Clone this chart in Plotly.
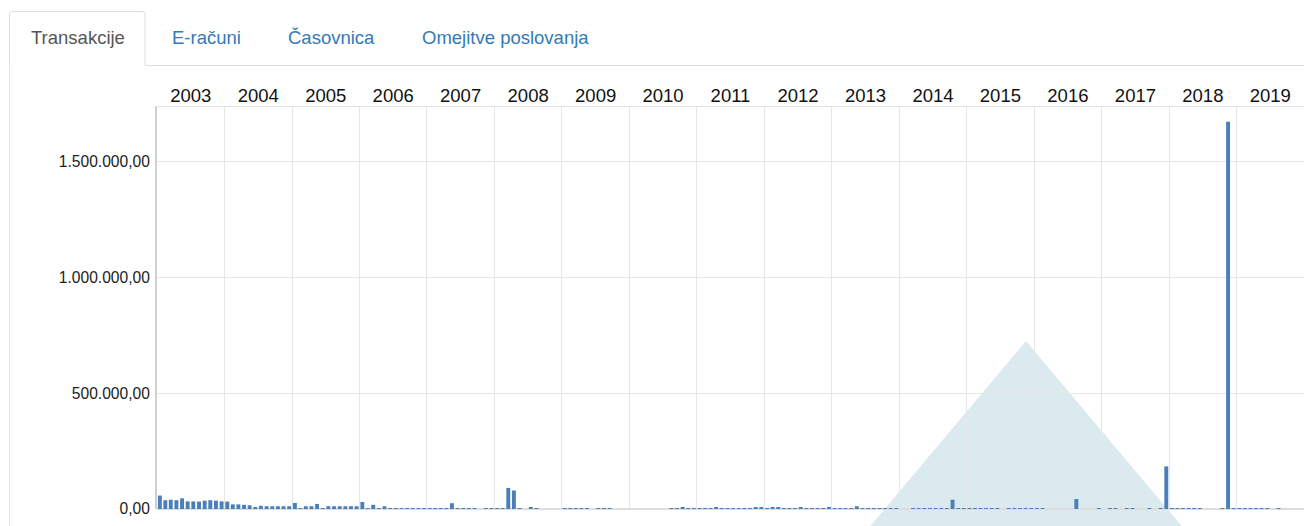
import pandas as pd
import plotly.graph_objects as go

# ---- data (monthly amounts, EUR) ----
years = list(range(2003, 2020))
v2003 = [58000, 38000, 40000, 38000, 46000, 33000, 33000, 32000, 36000, 38000, 36000, 33000]
v2004 = [32000, 20000, 20000, 18000, 16000, 6000, 14000, 12000, 12000, 12000, 12000, 12000]
v2005 = [26000, 3000, 12000, 12000, 22000, 3000, 12000, 12000, 12000, 12000, 12000, 12000]
v2006 = [30000, 3000, 18000, 2000, 12000, 4000, 4000, 4000, 4000, 4000, 4000, 4000]
v2007 = [4000, 4000, 4000, 4000, 25000, 4000, 4000, 4000, 4000, 0, 4000, 4000]
v2008 = [4000, 4000, 91000, 80000, 4000, 0, 8000, 4000, 0, 0, 0, 0]
v2009 = [4000, 4000, 4000, 4000, 4000, 0, 4000, 4000, 4000, 0, 0, 0]
v2010 = [0, 0, 0, 0, 0, 0, 0, 4000, 4000, 6000, 4000, 4000]
v2011 = [4000, 4000, 4000, 6000, 4000, 4000, 4000, 4000, 4000, 4000, 8000, 8000]
v2012 = [4000, 8000, 8000, 4000, 4000, 4000, 6000, 4000, 4000, 4000, 4000, 6000]
v2013 = [4000, 4000, 4000, 4000, 12000, 4000, 4000, 4000, 4000, 4000, 4000, 4000]
v2014 = [0, 0, 4000, 4000, 4000, 4000, 4000, 4000, 4000, 40000, 4000, 4000]
v2015 = [4000, 4000, 4000, 4000, 4000, 4000, 0, 4000, 4000, 4000, 4000, 4000]
v2016 = [4000, 4000, 0, 0, 0, 0, 0, 43000, 0, 0, 0, 4000]
v2017 = [0, 4000, 4000, 0, 4000, 4000, 0, 0, 4000, 0, 4000, 184000]
v2018 = [4000, 4000, 4000, 4000, 4000, 4000, 0, 0, 0, 4000, 1672000, 4000]
v2019 = [4000, 4000, 4000, 4000, 4000, 4000, 0, 4000, 0, 0, 0, 0]

yearly = [v2003, v2004, v2005, v2006, v2007, v2008, v2009, v2010, v2011,
          v2012, v2013, v2014, v2015, v2016, v2017, v2018, v2019]
values = [v for yr in yearly for v in yr]
months = pd.date_range("2003-01-01", periods=len(values), freq="MS")

tabs = ["Transakcije", "E-računi", "Časovnica", "Omejitve poslovanja"]
y_ticks = [0, 500000, 1000000, 1500000]

# ---- layout helpers (pixel -> paper) ----
W, H = 1304, 526
L, R, T, B = 157, 1304, 107, 509


def px(x):
    return (x - L) / (R - L)


def py(y):
    return (B - y) / (B - T)


fig = go.Figure()
fig.add_trace(go.Bar(
    x=months, y=values,
    xperiod="M1", xperiodalignment="middle",
    marker=dict(color="#4a80b7", line=dict(width=0)),
    hoverinfo="skip",
))

shapes = []
# decorative translucent triangle
tri = [(1026, 341), (856, 543), (1196, 543)]
path = "M {} {} L {} {} L {} {} Z".format(
    px(tri[0][0]), py(tri[0][1]), px(tri[1][0]), py(tri[1][1]), px(tri[2][0]), py(tri[2][1]))
shapes.append(dict(type="path", xref="paper", yref="paper", path=path,
                   fillcolor="rgba(160,200,212,0.38)", line=dict(width=0), layer="between"))
# active tab box
tab_path = "M {a} {b} L {a} {c} Q {a} {d} {e} {d} L {f} {d} Q {g} {d} {g} {c} L {g} {b}".format(
    a=px(9.5), b=py(65.5), c=py(14), d=py(11.5), e=px(12.5), f=px(142), g=px(145))
shapes.append(dict(type="path", xref="paper", yref="paper", path=tab_path,
                   line=dict(color="#dddddd", width=1)))
# tab bar underline
shapes.append(dict(type="line", xref="paper", yref="paper",
                   x0=px(145), x1=px(1304), y0=py(65.5), y1=py(65.5),
                   line=dict(color="#dddddd", width=1)))
# panel left border
shapes.append(dict(type="line", xref="paper", yref="paper",
                   x0=px(9.5), x1=px(9.5), y0=py(65.5), y1=py(526),
                   line=dict(color="#e3e3e3", width=1)))

tab_x = [77.5, 206, 331, 505]
tab_col = ["#555555", "#337ab7", "#337ab7", "#337ab7"]
annotations = []
for t, x, c in zip(tabs, tab_x, tab_col):
    annotations.append(dict(text=t, x=px(x), y=py(37), xref="paper", yref="paper",
                            xanchor="center", yanchor="middle", showarrow=False,
                            font=dict(size=18.5, color=c, family="Liberation Sans, Arial, sans-serif")))

fig.update_layout(
    width=W, height=H,
    margin=dict(l=L, r=W - R, t=T, b=H - B, pad=0),
    paper_bgcolor="white", plot_bgcolor="white",
    separators=",.",
    bargap=0.28,
    showlegend=False,
    font=dict(family="Liberation Sans, Arial, sans-serif"),
    shapes=shapes,
    annotations=annotations,
    xaxis=dict(
        type="date", range=["2003-01-01", "2020-01-01"],
        side="top", dtick="M12", tick0="2003-01-01", tickformat="%Y",
        ticklabelmode="period", ticks="", ticklabelstandoff=-3,
        showgrid=True, gridcolor="#e7e7e7", gridwidth=1,
        showline=True, linecolor="#e3e3e3", linewidth=1,
        tickfont=dict(size=18.5, color="#111111"),
        fixedrange=True,
    ),
    yaxis=dict(
        range=[0, 1735300], tickvals=y_ticks, tickformat=",.2f",
        showgrid=True, gridcolor="#e7e7e7", gridwidth=1,
        showline=True, linecolor="#cfcfcf", linewidth=2,
        zeroline=True, zerolinecolor="#dddddd", zerolinewidth=2,
        ticks="", ticklabelstandoff=2,
        tickfont=dict(size=15.6, color="#222222"),
        fixedrange=True,
    ),
)

fig.write_html("out.html", config={"displayModeBar": False},
               post_script="document.body.style.margin='0';document.body.style.overflow='hidden';")
